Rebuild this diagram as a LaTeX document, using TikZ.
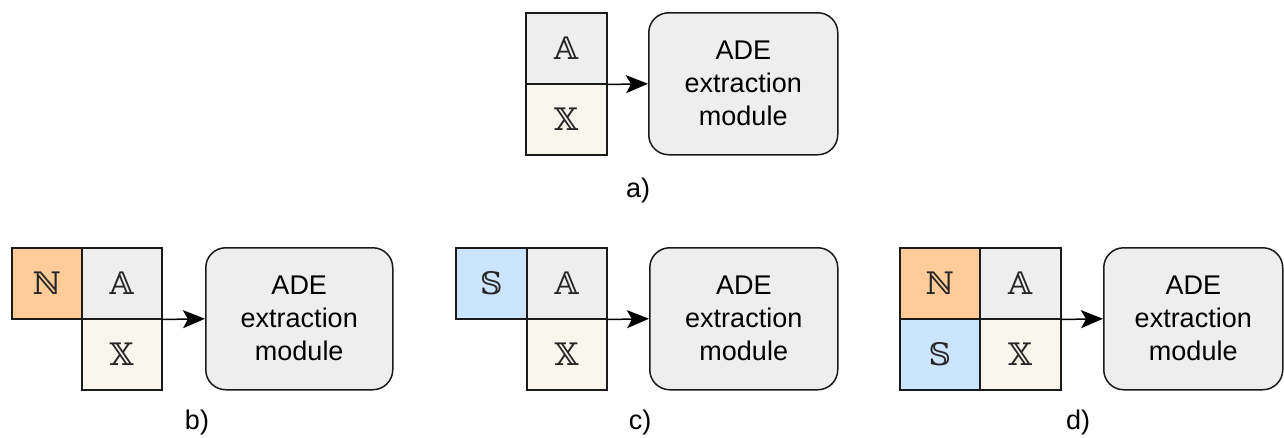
\documentclass[tikz,border=0pt]{standalone}
\usepackage{fontspec}
\setmainfont{Liberation Sans}
\newfontfamily\dsfont{DejaVu Serif}
\usetikzlibrary{arrows.meta}
\definecolor{cgray}{HTML}{EEEEEE}
\definecolor{ccream}{HTML}{F9F7ED}
\definecolor{corange}{HTML}{FFCC99}
\definecolor{cblue}{HTML}{CCE5FF}
\definecolor{cline}{HTML}{1A1A1A}
\tikzset{
  cell/.style={draw=cline, line width=1.5pt, anchor=north west, inner sep=0pt,
    minimum height=71pt, font=\dsfont\fontsize{31}{31}\selectfont, text=black!85},
  module/.style={draw=cline, line width=1.5pt, anchor=north west, fill=cgray,
    rounded corners=20pt, minimum height=142pt, align=center,
    font=\fontsize{27}{33}\selectfont},
  conn/.style={draw=black, line width=1.5pt, -{Stealth[length=22pt,width=18pt,inset=5pt]}},
  lab/.style={font=\fontsize{27}{30}\selectfont}
}
\begin{document}
\begin{tikzpicture}[x=1pt,y=1pt]
\useasboundingbox (0,0) rectangle (1284,-437);
% a)
\node[cell, fill=cgray, minimum width=81pt] (aA) at (525,-12) {𝔸};
\node[cell, fill=ccream, minimum width=81pt] (aX) at (525,-83) {𝕏};
\node[module, minimum width=189pt] (aM) at (648,-12) {ADE\\extraction\\module};
\draw[conn] (aA.south east) -- (aM.west);
\node[lab] (la) at (638,-191) {a)};
% b)
\node[cell, fill=corange, minimum width=70pt] (bN) at (11,-247) {ℕ};
\node[cell, fill=cgray, minimum width=80pt] (bA) at (81,-247) {𝔸};
\node[cell, fill=ccream, minimum width=80pt] (bX) at (81,-318) {𝕏};
\node[module, minimum width=187pt] (bM) at (205,-247) {ADE\\extraction\\module};
\draw[conn] (bA.south east) -- (bM.west);
\node[lab] (lb) at (197,-423) {b)};
% c)
\node[cell, fill=cblue, minimum width=71pt] (cS) at (455,-247) {𝕊};
\node[cell, fill=cgray, minimum width=80pt] (cA) at (526,-247) {𝔸};
\node[cell, fill=ccream, minimum width=80pt] (cX) at (526,-318) {𝕏};
\node[module, minimum width=188pt] (cM) at (649,-247) {ADE\\extraction\\module};
\draw[conn] (cA.south east) -- (cM.west);
\node[lab] (lc) at (640,-423) {c)};
% d)
\node[cell, fill=corange, minimum width=80pt] (dN) at (899,-247) {ℕ};
\node[cell, fill=cblue, minimum width=80pt] (dS) at (899,-318) {𝕊};
\node[cell, fill=cgray, minimum width=81pt] (dA) at (979,-247) {𝔸};
\node[cell, fill=ccream, minimum width=81pt] (dX) at (979,-318) {𝕏};
\node[module, minimum width=179pt] (dM) at (1103,-247) {ADE\\extraction\\module};
\draw[conn] (dA.south east) -- (dM.west);
\node[lab] (ld) at (1078,-423) {d)};
\end{tikzpicture}
\end{document}
